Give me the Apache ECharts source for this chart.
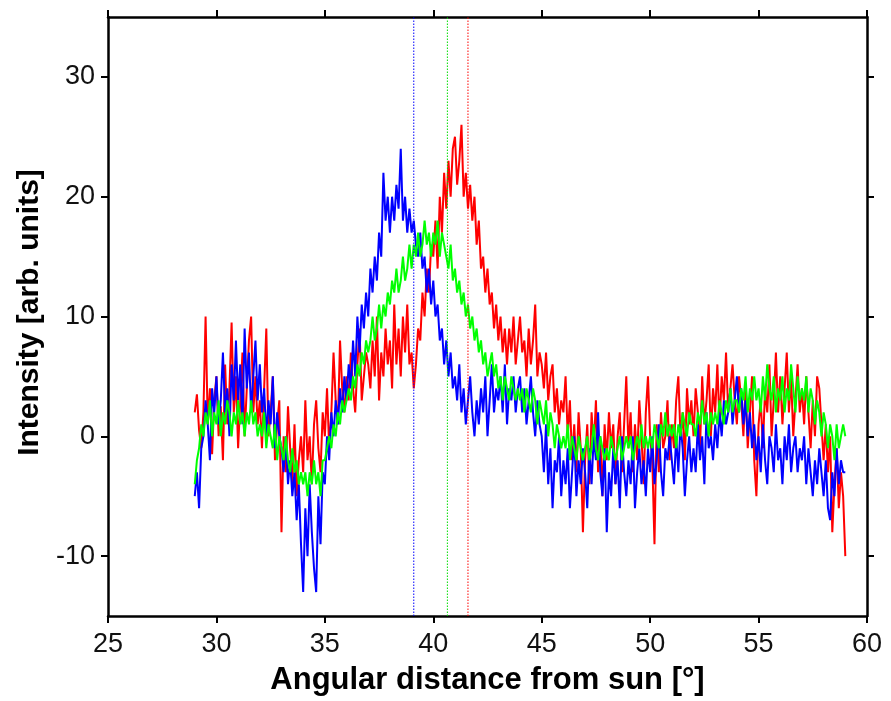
<!DOCTYPE html>
<html>
<head>
<meta charset="utf-8">
<script src="https://cdn.jsdelivr.net/npm/echarts@6/dist/echarts.min.js"></script>
<style>html,body{margin:0;padding:0;background:#fff}#c{width:891px;height:701px}</style>
</head>
<body>
<div id="c"></div>
<script>
// sampling grid of the traces (degrees)
const xStart = 29.0;
const xStep = 0.1;

const redValues = [
  2, 3.5, 0.5, -1, 2, 10, 1, 4, -1.5, 3,
  5, 0, 2.5, -2, 6, 1, 4, 9.5, 2, 5,
  -1, 3, 7, 0, 4, 8, 10, 2, 5, 1,
  3, -1, 4, 9, 0, 2, 5, -2, 1, 3,
  -8, 0, -3, 2.5, -1, -4, 1, -5, -2, 0,
  -3, 3, -2, 0, -4, 1, 3, -1, -3, 2,
  0, 4, -1, 2, 7, 3, 1, 8, 4, 2,
  5, 3, 7, 4, 2, 6, 9, 3, 5, 7,
  6, 4, 8, 5, 10, 3, 7, 5, 9, 6,
  8, 4, 11, 6, 9, 5, 10, 7, 11, 6,
  7, 4, 6, 9, 8, 12, 10, 14, 12, 16,
  15, 18, 14, 20, 17, 22, 19, 23, 20, 24,
  25, 21, 23, 26, 20, 22, 19, 21, 18, 20,
  16, 18, 14, 15, 12, 14, 11, 12, 9, 11,
  8, 10, 7, 9, 6, 9, 7, 10, 6, 8,
  10, 7, 8, 5, 9, 6, 8, 11, 5, 7,
  6, 4, 7, 3, 5, 6, 2, 4, 1, 3,
  2, 5, 0, 3, -2, 1, -3, 2, -1, -8,
  -2, 1, -4, 2, -1, 3, -3, 0, -5, 1,
  -2, 2, -1, 1, -4, 0, 2, -3, 1, 5,
  -1, 2, -3, 1, -2, 3, 0, -4, 2, 5,
  0, -2, -9, 1, -3, 2, -1, 0, 3, -2,
  1, -1, 3, 5, 0, 2, -2, 4, 1, 3,
  0, 4, 2, -1, 5, 1, 3, 6, 0, 4,
  2, 6, 1, 5, 3, 7, 2, 4, 6, 3,
  1, 5, 3, 0, 4, -1, 2, 5, -2, -5,
  1, 3, -1, 4, 2, 6, 0, 3, 7, 2,
  5, 1, 4, 7, 2, 5, 0, 3, 6, 2,
  4, 1, 5, 2, -1, 3, 0, 5, 4, 1,
  -2, 1, -3, 0, -8, -4, -1, -6, -3, -5,
  -10
];

const blueValues = [
  -5, -3, -6, -1, 0, 3, 1, -2, 4, 2,
  5, 1, 3, 7, 2, 4, 0, 6, 3, 8,
  3, 6, 1, 9, 4, 7, 2, 5, 8, 3,
  6, 2, 4, 0, 3, 1, 5, -1, 2, 0,
  -1, -3, 0, -4, -2, -5, -3, -7, -4, -9,
  -13, -6, -10, -4, -8, -11, -13, -5, -9, -3,
  -4, 0, -2, 2, 0, 3, 1, 4, 2, 5,
  3, 6, 4, 8, 5, 10, 7, 11, 9, 12,
  10, 14, 12, 15, 13, 17, 15, 22, 18, 20,
  17, 20, 18, 21, 19, 24, 18, 20, 17, 19,
  17, 18, 16, 15, 17, 14, 15, 12, 14, 11,
  13, 10, 11, 8, 9, 6, 8, 5, 7, 4,
  5, 3, 6, 2, 4, 1, 3, 5, 2, 0,
  3, 1, 4, 2, 5, 0, 3, 6, 2, 4,
  3, 5, 2, 6, 1, 4, 3, 5, 2, 4,
  5, 2, 4, 1, 3, 5, 2, 0, 3, 1,
  0, -3, 1, -4, -1, -6, -2, -3, 0, -5,
  -2, -4, -1, -6, -3, 0, -5, -2, -4, -1,
  -3, -6, -1, -4, 0, -2, 2, -3, -5, -1,
  -8, -3, -5, -1, -4, -2, -6, 0, -3, -5,
  -2, -4, 0, -6, -3, -1, -4, -2, -5, -1,
  -3, 0, -4, -2, 1, -3, -5, -1, -2, 0,
  -2, -4, 0, -3, 1, -1, -5, -2, 0, -3,
  -1, -3, 1, -2, 0, -4, 2, -1, 0, -2,
  1, -1, 2, 0, 3, 1, 2, 4, 1, 3,
  5, 2, 4, 1, 3, 0, 2, -1, 1, -2,
  0, -3, 1, -2, -4, 0, -1, -3, 1, -2,
  -1, -4, 0, -2, 1, -3, -1, 0, -3, -1,
  -2, 0, -4, -1, -3, -5, -2, -4, -1, -3,
  -5, -2, -6, -7, -3, -5, -1, -4, -2, -3,
  -3
];

const greenValues = [
  -4, -2, -1, 1, 0, 2, 1, 3, 0, 2,
  1, 3, 0, 2, 1, 3, 2, 0, 2, 1,
  3, 1, 2, 0, 2, 1, 3, 1, 2, 0,
  1, 0, 2, -1, 1, 0, -1, 1, -2, 0,
  -1, -2, 0, -2, -3, -1, -3, -2, -4, -3,
  -4, -3, -5, -3, -4, -2, -4, -3, -5, -2,
  -2, -1, 0, -1, 1, 0, 2, 1, 3, 2,
  3, 4, 3, 5, 4, 6, 5, 7, 6, 8,
  7, 8, 10, 8, 9, 11, 9, 11, 10, 12,
  11, 13, 12, 14, 12, 13, 15, 13, 14, 16,
  14, 16, 15, 17, 15, 16, 18, 16, 17, 15,
  17, 16, 18, 15, 17, 16, 15, 14, 16, 13,
  14, 12, 13, 11, 12, 10, 11, 9, 10, 8,
  9, 7, 8, 6, 7, 5, 6, 7, 5, 6,
  4, 5, 3, 5, 4, 3, 5, 4, 3, 4,
  3, 4, 2, 4, 3, 2, 4, 3, 1, 3,
  2, 1, 3, 0, 2, 1, -1, 1, 0, -1,
  0, -1, 1, -2, 0, -1, -2, 0, -1, -2,
  -1, 0, -2, -1, 1, -1, -2, 0, -1, -2,
  -1, -2, 0, -1, -2, -1, 0, -2, -1, 0,
  -1, 0, -2, -1, 0, -1, 1, -1, 0, -1,
  0, -1, 1, 0, -1, 1, 0, 2, 0, 1,
  0, 1, -1, 1, 0, 2, 1, 0, 2, 1,
  1, 0, 2, 1, 3, 1, 2, 0, 2, 1,
  2, 1, 3, 2, 1, 3, 2, 4, 2, 3,
  3, 2, 4, 3, 5, 2, 4, 3, 5, 3,
  4, 2, 5, 3, 6, 4, 3, 5, 2, 4,
  3, 5, 2, 4, 3, 6, 4, 2, 5, 3,
  4, 3, 5, 2, 4, 3, 1, 3, 2, 0,
  2, 1, -1, 1, 0, -2, 1, -1, 0, 1,
  0
];

// positions of the dotted vertical markers (degrees)
const blueMarker = 39.1;
const greenMarker = 40.65;
const redMarker = 41.6;

const xTicks = [25, 30, 35, 40, 45, 50, 55, 60];
const yTicks = [-10, 0, 10, 20, 30];
const xMin = 25, xMax = 60, yMin = -15, yMax = 35;

function toPairs(vals) {
  return vals.map((v, i) => [+(xStart + i * xStep).toFixed(2), v]);
}

const FONT = '"Liberation Sans", Arial, sans-serif';
const frame = { show: true, onZero: false, lineStyle: { color: '#000', width: 2.5 } };
const xTick = { show: true, inside: false, length: 7, customValues: xTicks, lineStyle: { color: '#000', width: 2 } };
const yTick = { show: true, inside: false, length: 7, customValues: yTicks, lineStyle: { color: '#000', width: 2 } };

function lineSeries(name, vals, color) {
  return {
    name: name, type: 'line', data: toPairs(vals),
    showSymbol: false, symbol: 'none', animation: false, z: 3,
    lineStyle: { color: color, width: 2 }, itemStyle: { color: color }
  };
}
function markerSeries(name, x, color) {
  return {
    name: name, type: 'line', data: [[x, yMin], [x, yMax]],
    showSymbol: false, symbol: 'none', animation: false, silent: true, z: 4,
    lineStyle: { color: color, width: 1, type: [1.5, 1.5] }, itemStyle: { color: color }
  };
}

const chart = echarts.init(document.getElementById('c'), null, { renderer: 'canvas' });
chart.setOption({
  backgroundColor: '#fff',
  animation: false,
  grid: { left: 108, right: 24, top: 17, bottom: 85, containLabel: false },
  xAxis: [{
    type: 'value', min: xMin, max: xMax, interval: 5, position: 'bottom',
    axisLine: frame, axisTick: xTick, splitLine: { show: false },
    axisLabel: { color: '#111', fontSize: 27, fontFamily: FONT, margin: 15, customValues: xTicks },
    name: 'Angular distance from sun [°]', nameLocation: 'middle', nameGap: 49,
    nameTextStyle: { color: '#000', fontSize: 31, fontWeight: 'bold', fontFamily: FONT }
  }, {
    type: 'value', min: xMin, max: xMax, interval: 5, position: 'top',
    axisLine: frame, axisTick: xTick, splitLine: { show: false }, axisLabel: { show: false }
  }],
  yAxis: [{
    type: 'value', min: yMin, max: yMax, interval: 5, position: 'left',
    axisLine: frame, splitLine: { show: false }, axisTick: yTick,
    axisLabel: { color: '#111', fontSize: 27, fontFamily: FONT, margin: 13, customValues: yTicks },
    name: 'Intensity [arb. units]', nameLocation: 'middle', nameGap: 62, nameRotate: 90,
    nameTextStyle: { color: '#000', fontSize: 30, fontWeight: 'bold', fontFamily: FONT, padding: [0, 0, 0, 8] }
  }, {
    type: 'value', min: yMin, max: yMax, interval: 5, position: 'right',
    axisLine: frame, axisTick: yTick, splitLine: { show: false }, axisLabel: { show: false }
  }],
  series: [
    lineSeries('red', redValues, '#ff0000'),
    lineSeries('blue', blueValues, '#0000ff'),
    lineSeries('green', greenValues, '#00ff00'),
    markerSeries('blue marker', blueMarker, '#0000ff'),
    markerSeries('green marker', greenMarker, '#00dd00'),
    markerSeries('red marker', redMarker, '#ff0000')
  ]
});
</script>
</body>
</html>
